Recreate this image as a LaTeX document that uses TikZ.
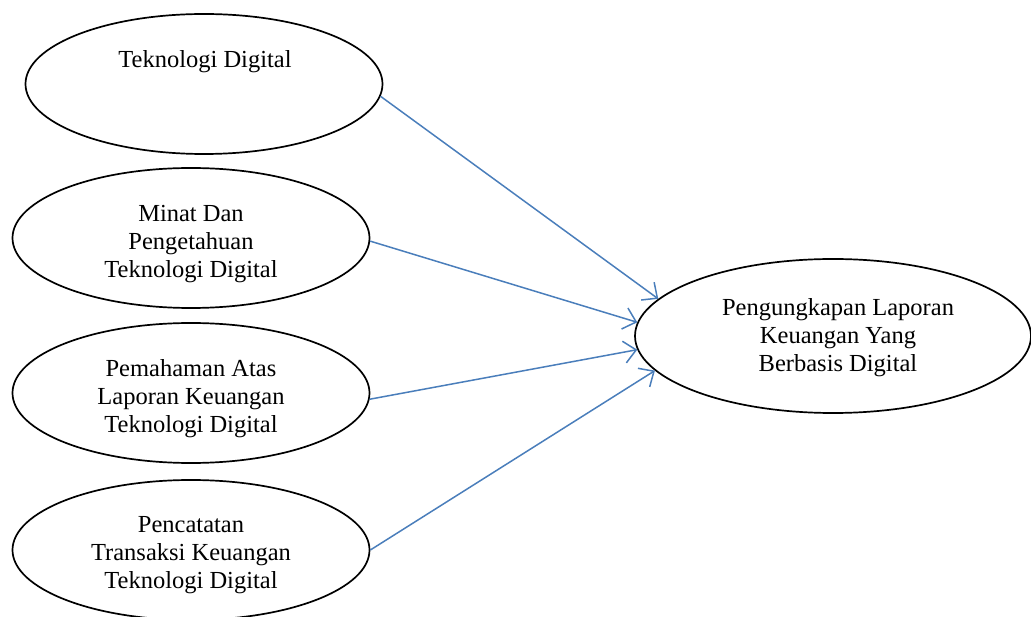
\documentclass[tikz,border=0pt]{standalone}
\usepackage{fontspec}
\setmainfont{Liberation Serif}
\usetikzlibrary{shapes.geometric,arrows.meta}
\definecolor{arrowblue}{HTML}{4A7EBB}
\tikzset{
  oval/.style={ellipse, draw=black, line width=1.7pt, inner sep=0pt},
  leftoval/.style={oval, minimum width=357pt, minimum height=140pt},
  lbl/.style={align=center, inner sep=0pt, font=\fontsize{24.5}{28}\selectfont},
  conn/.style={draw=arrowblue, line width=1.5pt, -{Straight Barb[length=12pt,width=22pt,line width=1.5pt]}}
}
\begin{document}
\begin{tikzpicture}[x=1pt,y=-1pt]
\useasboundingbox (0,0) rectangle (1031,617);
\node[leftoval] (e1) at (204,84) {};
\node[leftoval] (e2) at (191,238) {};
\node[leftoval] (e3) at (191,393) {};
\node[leftoval] (e4) at (191,550) {};
\node[oval, minimum width=396pt, minimum height=154pt] (r) at (833,336) {};
\node[lbl, anchor=base] (t1) at (205,68) {Teknologi Digital};
\node[lbl] (t2) at (191,244) {Minat Dan\\Pengetahuan\\Teknologi Digital};
\node[lbl] (t3) at (191,399) {Pemahaman Atas\\Laporan Keuangan\\Teknologi Digital};
\node[lbl] (t4) at (191,555) {Pencatatan\\Transaksi Keuangan\\Teknologi Digital};
\node[lbl] (tr) at (838,338) {Pengungkapan Laporan\\Keuangan Yang\\Berbasis Digital};
\draw[conn] (e1.-4) -- (r.168.5);
\draw[conn] (e2.-1) -- (r.176);
\draw[conn] (e3.-2) -- (r.184.5);
\draw[conn] (e4.0) -- (r.191.3);
\end{tikzpicture}
\end{document}
